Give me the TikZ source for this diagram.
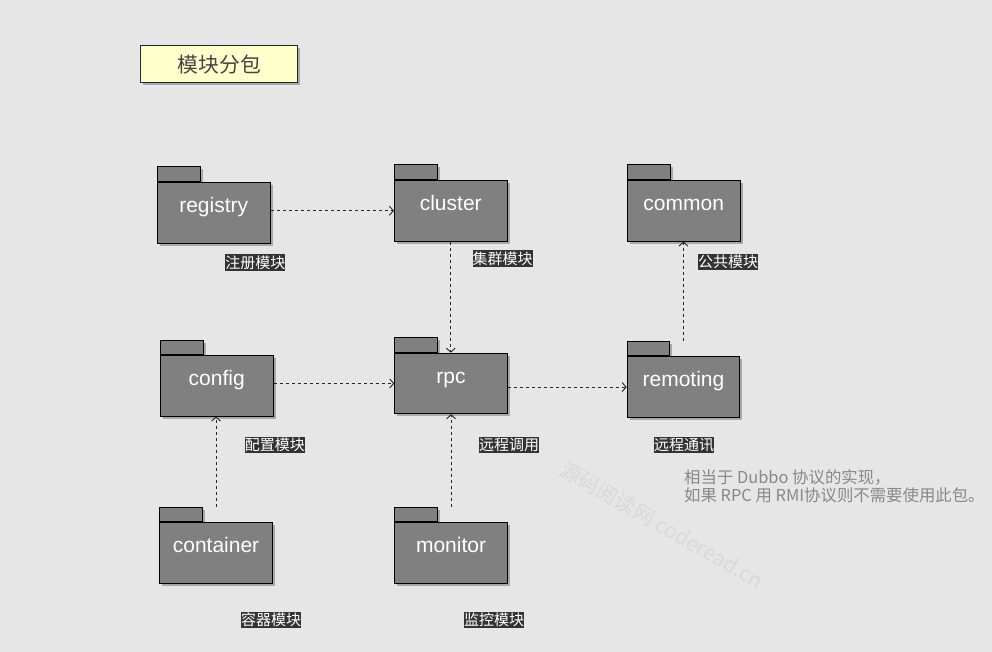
\documentclass[tikz,border=0pt]{standalone}
\usepackage{fontspec}
\setmainfont{Liberation Sans}
\newfontfamily\cjk{Noto Sans CJK SC}
\usetikzlibrary{arrows.meta,shadows}
\definecolor{bg}{HTML}{E6E6E6}
\definecolor{pkgfill}{HTML}{808080}
\definecolor{titlefill}{HTML}{FFFFCC}
\definecolor{labelbg}{HTML}{333333}
\definecolor{notegray}{HTML}{888888}
\definecolor{wmgray}{HTML}{D9D9D9}
\definecolor{shadowgray}{HTML}{A8A8A8}
\definecolor{titletext}{HTML}{444444}
\newcommand\pkgdraw[4]{%
  \coordinate (#1nw) at (#2,#3);
  \node[pkgtab, anchor=south west] (#1tab) at (#1nw) {};
  \node[pkgbody, anchor=north west] (#1) at (#1nw) {};
  \node[pkgtext, anchor=base] (#1text) at ([yshift=-30.5pt]#1.north) {#4};
}
\begin{document}
\begin{tikzpicture}[x=1pt,y=-1pt,
  pshadow/.style={drop shadow={shadow xshift=2.5pt,shadow yshift=-2.5pt,fill=shadowgray,opacity=1}},
  pkgtab/.style={rectangle,draw=black,line width=1pt,fill=pkgfill,minimum width=42.5pt,minimum height=14.5pt,inner sep=0pt,pshadow},
  pkgbody/.style={rectangle,draw=black,line width=1pt,fill=pkgfill,minimum width=112.5pt,minimum height=60.5pt,inner sep=0pt,pshadow},
  pkgtext/.style={text=white,font=\fontsize{21}{25}\selectfont,inner sep=0pt},
  modlabel/.style={fill=labelbg,text=white,font=\cjk\fontsize{15}{15}\selectfont,inner sep=0pt,minimum width=59.5pt,minimum height=16.7pt},
  titlebox/.style={rectangle,draw=black!85,line width=1pt,fill=titlefill,text=titletext,font=\cjk\fontsize{20.8}{22}\selectfont,minimum width=157pt,minimum height=37pt,inner sep=0pt,pshadow},
  note/.style={text=notegray,font=\cjk\fontsize{16.4}{18}\selectfont,inner sep=0pt},
  watermark/.style={text=wmgray,font=\cjk\fontsize{21}{21}\selectfont,inner sep=0pt,rotate=-30},
  dep/.style={draw=black!85,line width=0.9pt,dash pattern=on 3pt off 3pt,-{Straight Barb[length=4pt,width=9pt,line width=0.9pt]}}
]
\fill[bg] (0,0) rectangle (992,652);
\useasboundingbox (0,0) rectangle (992,652);

\node[watermark] (wm) at (662,525) {源码阅读网 coderead.cn};

\node[titlebox] (title) at (219.2,64.2) {模块分包};

\pkgdraw{registry}{157}{182}{registry}
\pkgdraw{cluster}{394}{180}{cluster}
\pkgdraw{common}{627}{180}{common}
\pkgdraw{config}{160}{355}{config}
\pkgdraw{rpc}{394.3}{352.7}{rpc}
\pkgdraw{remoting}{626.7}{356.3}{remoting}
\pkgdraw{container}{159.3}{522}{container}
\pkgdraw{monitor}{394.3}{522}{monitor}

\node[modlabel] (lregistry) at (255.3,262.7) {注册模块};
\node[modlabel] (lcluster) at (502.7,258.8) {集群模块};
\node[modlabel] (lcommon) at (728,262) {公共模块};
\node[modlabel] (lconfig) at (274.8,445) {配置模块};
\node[modlabel] (lrpc) at (509,445) {远程调用};
\node[modlabel] (lremoting) at (684,445) {远程通讯};
\node[modlabel] (lcontainer) at (271,620) {容器模块};
\node[modlabel] (lmonitor) at (494,620) {监控模块};

\node[note, anchor=base west] (note1) at (684,483) {相当于 Dubbo 协议的实现，};
\node[note, anchor=base west] (note2) at (684,501.7) {如果 RPC 用 RMI协议则不需要使用此包。};

\draw[dep] (registry.east |- cluster.west) -- (cluster.west);
\draw[dep] (cluster.south) -- (cluster.south |- rpc.north);
\draw[dep] (config.east |- rpc.west) -- (rpc.west);
\draw[dep] (rpc.east |- remoting.west) -- (remoting.west);
\draw[dep] (remoting.north |- remotingtab.north) -- (remoting.north |- common.south);
\draw[dep] (container.north |- containertab.north) -- (container.north |- config.south);
\draw[dep] (monitor.north |- monitortab.north) -- (monitor.north |- rpc.south);
\end{tikzpicture}
\end{document}
